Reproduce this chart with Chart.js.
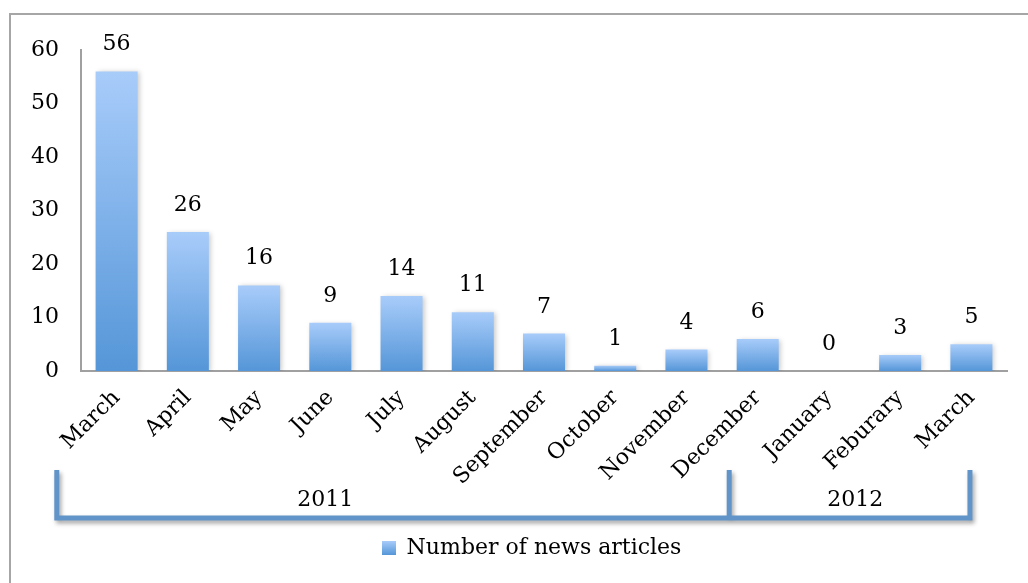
<!DOCTYPE html>
<html>
<head>
<meta charset="utf-8">
<script src="https://cdn.jsdelivr.net/npm/chart.js@4/dist/chart.umd.min.js"></script>
<style>
  html, body { margin: 0; padding: 0; background: #fff; }
  canvas { display: block; }
</style>
</head>
<body>
<canvas id="articlesChart" width="1028" height="583"></canvas>
<script>
// ── Data ────────────────────────────────────────────────────────────────
const months = ['March', 'April', 'May', 'June', 'July', 'August', 'September',
                'October', 'November', 'December', 'January', 'Feburary', 'March'];
const articleCounts = [56, 26, 16, 9, 14, 11, 7, 1, 4, 6, 0, 3, 5];
const yTicks = [0, 10, 20, 30, 40, 50, 60];
const years = ['2011', '2012'];

const FONT = '"DejaVu Serif", "Liberation Serif", serif';
const FONT_SIZE = 22;
const BAR_TOP = '#a8ccfa';
const BAR_BOTTOM = '#5596d8';
const BRACKET = '#6194c8';

// little gradient square for the legend
const swatch = document.createElement('canvas');
swatch.width = 14; swatch.height = 14;
(() => {
  const c = swatch.getContext('2d');
  const g = c.createLinearGradient(0, 0, 0, 14);
  g.addColorStop(0, BAR_TOP);
  g.addColorStop(1, BAR_BOTTOM);
  c.fillStyle = g;
  c.fillRect(0, 0, 14, 14);
})();

// gradient per bar, top to base
function barGradient(ctx) {
  const chart = ctx.chart;
  if (!chart.chartArea || ctx.type !== 'data') return BAR_TOP;
  const y = chart.scales.y;
  const top = y.getPixelForValue(ctx.raw);
  const base = y.getPixelForValue(0);
  if (base - top < 1) return BAR_TOP;
  const g = chart.ctx.createLinearGradient(0, top, 0, base);
  g.addColorStop(0, BAR_TOP);
  g.addColorStop(1, BAR_BOTTOM);
  return g;
}

// ── Plugins ─────────────────────────────────────────────────────────────
const frame = {
  id: 'frame',
  afterLayout(chart) {
    // legend sits a bit right of the canvas centre in the original
    if (chart.legend) { chart.legend.left += 28; chart.legend.right += 28; }
  },
  beforeDraw(chart) {
    const ctx = chart.ctx;
    ctx.save();
    ctx.fillStyle = '#a6a6a6';
    ctx.fillRect(9, 13, chart.width - 9, 2);
    ctx.fillRect(9, 13, 2, chart.height - 13);
    ctx.restore();
  }
};

const valueLabels = {
  id: 'valueLabels',
  beforeDatasetsDraw(chart) {
    const ctx = chart.ctx;
    ctx.save();
    ctx.shadowColor = 'rgba(0,0,0,0.22)';
    ctx.shadowBlur = 5;
    ctx.shadowOffsetX = 2;
    ctx.shadowOffsetY = 1;
  },
  afterDatasetsDraw(chart) {
    const ctx = chart.ctx;
    ctx.restore();
    const meta = chart.getDatasetMeta(0);
    ctx.save();
    ctx.font = FONT_SIZE + 'px ' + FONT;
    ctx.fillStyle = '#000';
    ctx.textAlign = 'center';
    ctx.textBaseline = 'alphabetic';
    meta.data.forEach((bar, i) => {
      ctx.fillText(String(articleCounts[i]), bar.x, bar.y - 21);
    });
    ctx.restore();
  }
};

// year brackets under the month labels
const yearBrackets = {
  id: 'yearBrackets',
  afterDraw(chart, args, opts) {
    const ctx = chart.ctx;
    const x = chart.scales.x;
    const base = chart.chartArea.bottom;
    const yTop = base + opts.top;
    const yBot = base + opts.bottom;
    const px = opts.edges.map(v => x.getPixelForValue(v));
    ctx.save();
    ctx.strokeStyle = BRACKET;
    ctx.lineWidth = 5;
    ctx.lineCap = 'butt';
    ctx.shadowColor = 'rgba(0,0,0,0.35)';
    ctx.shadowBlur = 4;
    ctx.shadowOffsetX = 2;
    ctx.shadowOffsetY = 3;
    ctx.beginPath();
    ctx.moveTo(px[0], yTop);
    ctx.lineTo(px[0], yBot);
    ctx.lineTo(px[2], yBot);
    ctx.lineTo(px[2], yTop);
    ctx.moveTo(px[1], yTop);
    ctx.lineTo(px[1], yBot);
    ctx.stroke();
    ctx.restore();

    ctx.save();
    ctx.font = FONT_SIZE + 'px ' + FONT;
    ctx.fillStyle = '#000';
    ctx.textAlign = 'center';
    ctx.textBaseline = 'middle';
    years.forEach((yr, i) => {
      ctx.fillText(yr, x.getPixelForValue(opts.labelAt[i]), base + opts.labelY);
    });
    ctx.restore();
  }
};

// ── Chart ───────────────────────────────────────────────────────────────
new Chart(document.getElementById('articlesChart'), {
  type: 'bar',
  data: {
    labels: months,
    datasets: [{
      label: 'Number of news articles',
      data: articleCounts,
      backgroundColor: barGradient,
      borderWidth: 0,
      categoryPercentage: 1,
      barPercentage: 0.59
    }]
  },
  options: {
    responsive: false,
    animation: false,
    devicePixelRatio: 1,
    layout: { padding: { top: 50, right: 21, bottom: 14, left: 0 } },
    plugins: {
      tooltip: { enabled: false },
      legend: {
        position: 'bottom',
        labels: {
          color: '#000',
          font: { family: FONT, size: FONT_SIZE },
          usePointStyle: true,
          boxWidth: 14,
          boxHeight: 14,
          padding: 10,
          generateLabels(chart) {
            return Chart.defaults.plugins.legend.labels.generateLabels(chart)
              .map(item => Object.assign(item, { pointStyle: swatch, fillStyle: BAR_BOTTOM }));
          }
        }
      },
      yearBrackets: {
        edges: [-0.84, 8.6, 11.98],
        labelAt: [2.93, 10.37],
        top: 99,
        bottom: 147,
        labelY: 129
      }
    },
    scales: {
      x: {
        grid: { display: false },
        border: { display: true, color: '#a0a0a0', width: 2 },
        ticks: {
          color: '#000',
          font: { family: FONT, size: FONT_SIZE },
          autoSkip: false,
          minRotation: 45,
          maxRotation: 45,
          padding: 6
        },
        afterFit(scale) { scale.height = 156; }
      },
      y: {
        min: 0,
        max: 60,
        afterBuildTicks(scale) { scale.ticks = yTicks.map(v => ({ value: v })); },
        grid: { display: false, drawTicks: false },
        border: { display: true, color: '#a0a0a0', width: 2 },
        ticks: {
          color: '#000',
          font: { family: FONT, size: FONT_SIZE },
          padding: 22
        },
        afterFit(scale) { scale.width = 81; }
      }
    }
  },
  plugins: [frame, valueLabels, yearBrackets]
});
</script>
</body>
</html>
